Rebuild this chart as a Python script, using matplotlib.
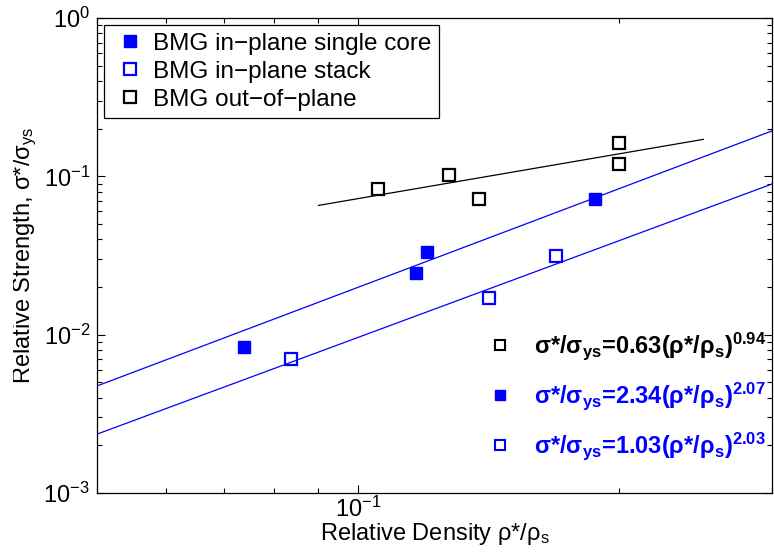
import matplotlib
matplotlib.use("Agg")
import matplotlib.pyplot as plt
import numpy as np
from matplotlib.lines import Line2D
from matplotlib.ticker import LogLocator, NullFormatter, FixedLocator
from matplotlib.transforms import Bbox, TransformedBbox

plt.rcParams['font.family'] = ['Liberation Sans', 'DejaVu Sans']
plt.rcParams['mathtext.fontset'] = 'custom'
plt.rcParams['mathtext.rm'] = 'Liberation Sans'
plt.rcParams['mathtext.it'] = 'Liberation Sans:italic'
plt.rcParams['mathtext.bf'] = 'Liberation Sans:bold'

# data
core_x = [0.0738, 0.1165, 0.120, 0.1875]
core_y = [0.0084, 0.0246, 0.0331, 0.0719]

stack_x = [0.0837, 0.1416, 0.169]
stack_y = [0.0070, 0.0170, 0.0312]

oop_x = [0.1054, 0.1273, 0.1378, 0.200, 0.200]
oop_y = [0.0835, 0.102, 0.0715, 0.1616, 0.120]

# power law fits  sigma*/sigma_ys = C (rho*/rho_s)^n
fit_core = (2.34, 2.07)
fit_stack = (1.03, 2.03)
fit_oop = (0.63, 0.94)
oop_range = (0.09, 0.25)

xlim = (0.05, 0.3)
ylim = (1e-3, 1e0)

blue = (0, 0, 1)

fig = plt.figure(figsize=(7.74, 5.6), dpi=100)
ax = fig.add_axes([97 / 774, 67 / 560, 675 / 774, 475 / 560])
ax.set_xscale('log')
ax.set_yscale('log')

xf = np.logspace(np.log10(xlim[0]), np.log10(xlim[1]), 50)
ax.plot(xf, fit_core[0] * xf ** fit_core[1], color=blue, lw=0.9)
ax.plot(xf, fit_stack[0] * xf ** fit_stack[1], color=blue, lw=0.9)
xo = np.logspace(np.log10(oop_range[0]), np.log10(oop_range[1]), 20)
ax.plot(xo, fit_oop[0] * xo ** fit_oop[1], color='k', lw=0.9)

h1, = ax.plot(core_x, core_y, 's', color=blue, ms=8.5, mec=blue,
              label='BMG in\u2212plane single core')
h2, = ax.plot(stack_x, stack_y, 's', mfc='none', mec=blue, mew=1.6, ms=8,
              label='BMG in\u2212plane stack')
h3, = ax.plot(oop_x, oop_y, 's', mfc='none', mec='k', mew=1.6, ms=8,
              label='BMG out\u2212of\u2212plane')

ax.set_xlim(*xlim)
ax.set_ylim(*ylim)

ax.xaxis.set_major_locator(FixedLocator([0.1]))
ax.xaxis.set_minor_locator(FixedLocator([0.05, 0.06, 0.07, 0.08, 0.09, 0.2, 0.3]))
ax.xaxis.set_minor_formatter(NullFormatter())
ax.yaxis.set_minor_locator(LogLocator(base=10, subs=np.arange(2, 10)))
ax.yaxis.set_minor_formatter(NullFormatter())

ax.tick_params(which='both', direction='in', top=True, right=True, labelsize=17)
ax.tick_params(which='major', length=6, width=0.8)
ax.tick_params(which='minor', length=3.5, width=0.8)
ax.tick_params(axis='x', pad=3)
ax.tick_params(axis='y', pad=5)
for s in ax.spines.values():
    s.set_linewidth(0.9)

ax.set_xlabel(r'Relative Density $\mathrm{\rho}$*/$\mathrm{\rho}_\mathrm{s}$',
              fontsize=17, labelpad=-1)
ylab = ax.set_ylabel(r'Relative Strength, $\mathrm{\sigma}$*/$\mathrm{\sigma}_\mathrm{ys}$',
                     fontsize=17)
ax.yaxis.set_label_coords(-0.086, 0.5)
ylab.set_clip_box(TransformedBbox(Bbox([[13 / 774, 0], [1, 1]]), fig.transFigure))
ylab.set_clip_on(True)

leg1 = ax.legend(handles=[h1, h2, h3], loc='upper left', fontsize=17.5,
                 frameon=True, fancybox=False, edgecolor='k', framealpha=1,
                 handlelength=1.5, handletextpad=0.2, labelspacing=0.25,
                 borderpad=0.3, borderaxespad=0.3, markerscale=1.0)
leg1.get_frame().set_linewidth(0.9)
ax.add_artist(leg1)

eq_labels = [
    'σ*/σ$_\\mathbf{ys}$=0.63(ρ*/ρ$_\\mathbf{s}$)$^\\mathbf{0.94}$',
    'σ*/σ$_\\mathbf{ys}$=2.34(ρ*/ρ$_\\mathbf{s}$)$^\\mathbf{2.07}$',
    'σ*/σ$_\\mathbf{ys}$=1.03(ρ*/ρ$_\\mathbf{s}$)$^\\mathbf{2.03}$',
]
eq_handles = [
    Line2D([], [], ls='none', marker='s', mfc='none', mec='k', mew=1.5, ms=6.5),
    Line2D([], [], ls='none', marker='s', mfc=blue, mec=blue, ms=7),
    Line2D([], [], ls='none', marker='s', mfc='none', mec=blue, mew=1.5, ms=6.5),
]
leg2 = ax.legend(handles=eq_handles, labels=eq_labels, loc='center left',
                 bbox_to_anchor=((488 - 97) / 675, (493 - 396) / 475),
                 prop={'size': 17, 'weight': 'bold'}, frameon=False,
                 handlelength=1.0, handletextpad=0.95, labelspacing=0.78,
                 borderpad=0, borderaxespad=0)
for t, c in zip(leg2.get_texts(), ['k', blue, blue]):
    t.set_color(c)

fig.savefig('out.png', dpi=100)
